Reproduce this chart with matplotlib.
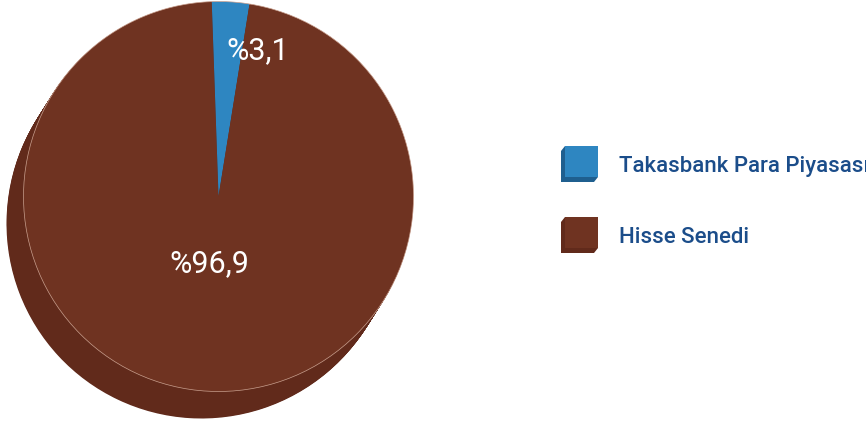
import numpy as np
import matplotlib.pyplot as plt
from matplotlib.patches import Polygon, Rectangle

# =========================
# Données
# =========================
labels = ["Takasbank Para Piyasası", "Hisse Senedi"]
values = [3.1, 96.9]
colors = ["#2e86c1", "#6f3321"]
side_colors = ["#1f5f8f", "#612a1b"]
text_color = "#1b4d8a"

W, H = 866, 425
cx, cy = 218.5, H - 196.5   # centre du disque (y vers le haut)
radius = 195
depth = (-17, -27)          # extrusion vers le bas-gauche
start = 92

plt.rcParams['font.family'] = ['Roboto', 'DejaVu Sans']

fig = plt.figure(figsize=(W / 100, H / 100), dpi=100)
ax = fig.add_axes([0, 0, 1, 1])

# =========================
# Épaisseur (extrusion)
# =========================
n_steps = 40
for t in np.linspace(1, 0.02, n_steps):
    ax.pie(values, colors=side_colors, startangle=start, counterclock=False,
           radius=radius, center=(cx + t * depth[0], cy + t * depth[1]),
           wedgeprops=dict(linewidth=0, antialiased=True))

# =========================
# Face supérieure
# =========================
wedges, _ = ax.pie(values, colors=colors, startangle=start, counterclock=False,
                   radius=radius, center=(cx, cy),
                   wedgeprops=dict(linewidth=0))

circ = plt.Circle((cx, cy), radius, fill=False, ec="#c9a08f", lw=0.5)
ax.add_patch(circ)

# étiquettes en %
label_pos = [(151, 75), (68, 262)]   # (rayon, angle)
for v, (r, a) in zip(values, label_pos):
    txt = "%" + f"{v:.1f}".replace(".", ",")
    x = cx + r * np.cos(np.radians(a))
    y = cy + r * np.sin(np.radians(a))
    ax.text(x, y, txt, color="white", fontsize=22, ha="center", va="center")

# =========================
# Légende (carrés 3D)
# =========================
box_x, box_w, box_h = 565, 33, 31
box_tops = [146, 217]
off = (-4, 5)
for i, lab in enumerate(labels):
    top = H - box_tops[i]
    bot = top - box_h
    # faces latérales
    side = Polygon([(box_x, top), (box_x + off[0], top - off[1]),
                    (box_x + off[0], bot - off[1]), (box_x + box_w + off[0], bot - off[1]),
                    (box_x + box_w, bot), (box_x, bot)],
                   closed=True, fc=side_colors[i], ec="none")
    ax.add_patch(side)
    ax.add_patch(Rectangle((box_x, bot), box_w, box_h, fc=colors[i], ec="none"))
    ax.text(619, top - 26, lab, color=text_color, fontsize=16, fontweight="medium",
            ha="left", va="baseline")

ax.set_xlim(0, W)
ax.set_ylim(0, H)
ax.set_aspect("equal")
ax.axis("off")

fig.savefig("out.png", dpi=100, facecolor="white")
